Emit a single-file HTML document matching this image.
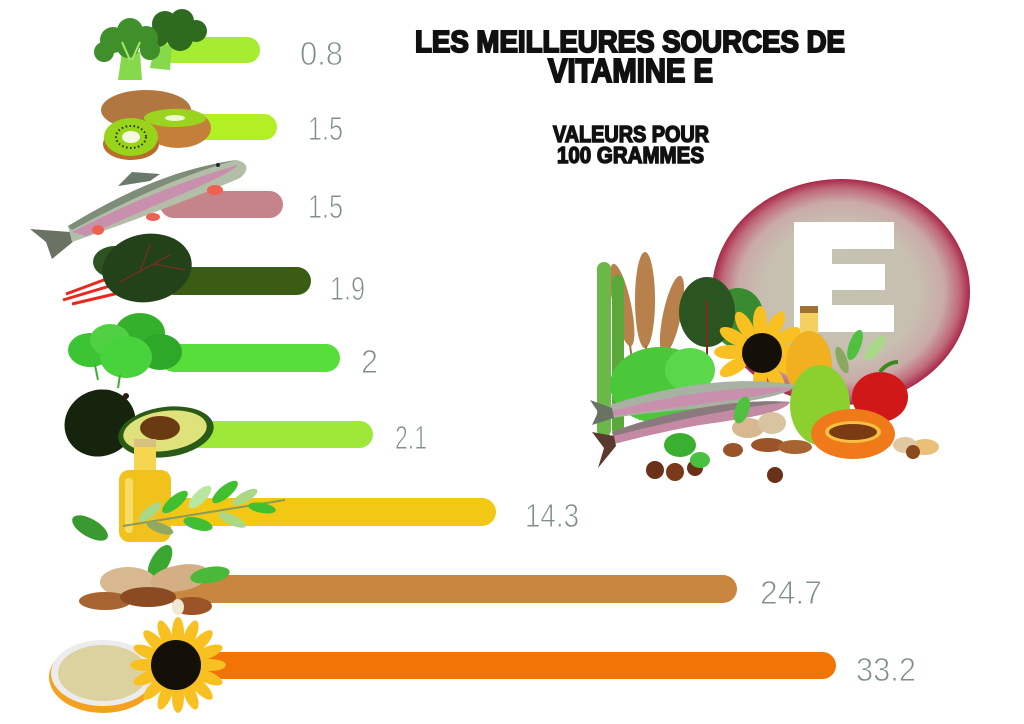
<!DOCTYPE html>
<html><head><meta charset="utf-8"><style>
html,body{margin:0;padding:0;background:#fff;}
svg{display:block;}
</style></head><body>
<svg width="1024" height="724" viewBox="0 0 1024 724" xmlns="http://www.w3.org/2000/svg">
<defs>
<radialGradient id="sph" cx="0.5" cy="0.5" r="0.5">
<stop offset="0" stop-color="#c4c2ae"/>
<stop offset="0.6" stop-color="#c7c0b1"/>
<stop offset="0.8" stop-color="#caaaa8"/>
<stop offset="0.92" stop-color="#c06a7a"/>
<stop offset="1" stop-color="#a82848"/>
</radialGradient>
</defs>
<rect width="1024" height="724" fill="#fff"/>

<!-- Title -->
<g font-family="Liberation Sans, Arial, sans-serif" font-weight="bold" fill="#111" stroke="#111" stroke-width="2">
<text x="415" y="52" font-size="31" textLength="430" lengthAdjust="spacingAndGlyphs">LES MEILLEURES SOURCES DE</text>
<text x="548" y="82" font-size="33" textLength="165" lengthAdjust="spacingAndGlyphs">VITAMINE E</text>
<text x="553" y="142" font-size="23" textLength="156" lengthAdjust="spacingAndGlyphs" stroke-width="1.5">VALEURS POUR</text>
<text x="557" y="163" font-size="23" textLength="147" lengthAdjust="spacingAndGlyphs" stroke-width="1.5">100 GRAMMES</text>
</g>

<!-- Bars -->
<rect x="160" y="37" width="100" height="26" rx="13" fill="#a6ec30"/>
<rect x="160" y="114" width="117" height="26" rx="13" fill="#b2f024"/>
<rect x="160" y="191" width="123" height="27" rx="13.5" fill="#c4848a"/>
<rect x="160" y="267" width="151" height="28" rx="14" fill="#3a5c14"/>
<rect x="160" y="344" width="180" height="28" rx="14" fill="#58de3a"/>
<rect x="160" y="421" width="213" height="27" rx="13.5" fill="#9ee83a"/>
<rect x="160" y="498" width="336" height="28" rx="14" fill="#f2c814"/>
<rect x="160" y="575" width="577" height="28" rx="14" fill="#c8863e"/>
<rect x="200" y="652" width="636" height="27" rx="13.5" fill="#f27406"/>

<!-- Value labels -->
<g font-family="Liberation Sans, Arial, sans-serif" fill="#7f8e8e" stroke="#fff" stroke-width="0.9" font-size="33">
<text x="300" y="65" textLength="43" lengthAdjust="spacingAndGlyphs">0.8</text>
<text x="308" y="140" textLength="35" lengthAdjust="spacingAndGlyphs">1.5</text>
<text x="308" y="218" textLength="35" lengthAdjust="spacingAndGlyphs">1.5</text>
<text x="330" y="300" textLength="35" lengthAdjust="spacingAndGlyphs">1.9</text>
<text x="361" y="373" textLength="17" lengthAdjust="spacingAndGlyphs">2</text>
<text x="395" y="449" textLength="32" lengthAdjust="spacingAndGlyphs">2.1</text>
<text x="525" y="527" textLength="54" lengthAdjust="spacingAndGlyphs">14.3</text>
<text x="760" y="604" textLength="62" lengthAdjust="spacingAndGlyphs">24.7</text>
<text x="856" y="681" textLength="60" lengthAdjust="spacingAndGlyphs">33.2</text>
</g>

<!-- Broccoli -->
<polygon points="155,45 172,45 170,70 150,68" fill="#86d94a"/>
<g fill="#2e6b1e">
<circle cx="165" cy="24" r="13"/><circle cx="182" cy="21" r="12"/><circle cx="196" cy="31" r="11"/><circle cx="180" cy="38" r="13"/><circle cx="158" cy="36" r="11"/>
</g>
<polygon points="122,52 140,52 142,80 118,80" fill="#86d94a"/>
<g fill="#3f8f2a">
<circle cx="113" cy="40" r="13"/><circle cx="130" cy="31" r="13"/><circle cx="146" cy="38" r="12"/><circle cx="150" cy="50" r="10"/><circle cx="104" cy="52" r="10"/><circle cx="128" cy="47" r="11"/>
</g>
<g stroke="#a8e86a" stroke-width="2"><line x1="130" y1="60" x2="122" y2="42"/><line x1="132" y1="60" x2="140" y2="42"/></g>

<!-- Kiwi -->
<ellipse cx="146" cy="110" rx="45" ry="20" fill="#b07840"/>
<ellipse cx="178" cy="128" rx="33" ry="20" fill="#c4803a"/>
<ellipse cx="175" cy="118" rx="31" ry="9" fill="#9ad41e"/>
<ellipse cx="175" cy="118" rx="10" ry="3" fill="#f0f8d0"/>
<ellipse cx="131" cy="144" rx="28" ry="16" fill="#b86e2a"/>
<ellipse cx="131" cy="137" rx="27" ry="19" fill="#98d41a"/>
<ellipse cx="131" cy="137" rx="15" ry="11" fill="none" stroke="#2a2a10" stroke-width="2" stroke-dasharray="1.5 2.5"/>
<ellipse cx="131" cy="137" rx="9" ry="6" fill="#f4f8e0"/>

<!-- Fish -->
<polygon points="70,232 30,229 46,242 52,259 74,241" fill="#6a7264"/>
<path d="M68,226 C120,195 170,170 236,160 C248,162 250,170 240,178 C200,195 150,215 72,242 Z" fill="#b2bea8"/>
<path d="M72,232 C125,205 178,182 238,165 C225,178 172,197 86,236 Z" fill="#c890ac"/>
<path d="M68,226 C120,195 170,170 236,160 C200,170 150,188 72,230 Z" fill="#7e8c7a"/>
<polygon points="118,186 132,172 160,174 150,181" fill="#6a7a6a"/>
<circle cx="218" cy="165" r="2" fill="#223"/>
<g fill="#f06050"><ellipse cx="215" cy="190" rx="8" ry="5"/><ellipse cx="153" cy="217" rx="7" ry="4"/><ellipse cx="98" cy="230" rx="6" ry="5"/></g>

<!-- Chard -->
<g stroke="#e8281e" stroke-width="3">
<line x1="63" y1="300" x2="130" y2="280"/><line x1="72" y1="304" x2="140" y2="288"/><line x1="66" y1="294" x2="120" y2="274"/></g>
<ellipse cx="115" cy="262" rx="22" ry="16" fill="#2e5220"/>
<ellipse cx="147" cy="268" rx="45" ry="34" fill="#24421a" transform="rotate(-10 147 268)"/>
<g stroke="#8a2a1e" stroke-width="1" fill="none"><path d="M120,282 L170,255 M140,272 L150,245 M155,264 L185,270"/></g>

<!-- Spinach -->
<ellipse cx="90" cy="350" rx="22" ry="17" fill="#3cc434"/>
<ellipse cx="140" cy="333" rx="25" ry="20" fill="#34b02c"/>
<ellipse cx="160" cy="352" rx="22" ry="18" fill="#2ea828"/>
<ellipse cx="110" cy="340" rx="20" ry="16" fill="#52d044"/>
<ellipse cx="126" cy="357" rx="26" ry="21" fill="#48d23c"/>
<g stroke="#3cb030" stroke-width="2"><line x1="120" y1="375" x2="118" y2="388"/><line x1="95" y1="365" x2="98" y2="380"/></g>

<!-- Avocado -->
<ellipse cx="100" cy="423" rx="36" ry="33" fill="#16240e" transform="rotate(-25 100 423)"/>
<circle cx="126" cy="396" r="3" fill="#301a10"/>
<ellipse cx="166" cy="432" rx="48" ry="25" fill="#2a5a16" transform="rotate(-8 166 432)"/>
<ellipse cx="165" cy="431" rx="42" ry="20" fill="#dfe27a" transform="rotate(-8 165 431)"/>
<ellipse cx="160" cy="428" rx="20" ry="12" fill="#6a3a12"/>

<!-- Oil bottle + olive branch -->
<ellipse cx="90" cy="528" rx="20" ry="9" fill="#3a9a30" transform="rotate(30 90 528)"/>
<rect x="134" y="445" width="22" height="32" fill="#f6d650"/>
<rect x="134" y="439" width="22" height="8" fill="#d8c080"/>
<rect x="119" y="470" width="52" height="72" rx="10" fill="#f2c21c"/>
<rect x="125" y="478" width="8" height="55" rx="4" fill="#f8dc68"/>
<line x1="123" y1="526" x2="285" y2="500" stroke="#8a9a5a" stroke-width="2"/>
<g>
<ellipse cx="150" cy="512" rx="14" ry="5" fill="#a8d888" transform="rotate(-40 150 512)"/>
<ellipse cx="175" cy="502" rx="16" ry="6" fill="#40c030" transform="rotate(-40 175 502)"/>
<ellipse cx="200" cy="497" rx="15" ry="6" fill="#b8e8a0" transform="rotate(-45 200 497)"/>
<ellipse cx="225" cy="492" rx="16" ry="6" fill="#40c030" transform="rotate(-40 225 492)"/>
<ellipse cx="245" cy="497" rx="14" ry="5" fill="#a8d888" transform="rotate(-30 245 497)"/>
<ellipse cx="160" cy="528" rx="14" ry="5" fill="#90a860" transform="rotate(20 160 528)"/>
<ellipse cx="198" cy="524" rx="15" ry="6" fill="#40c030" transform="rotate(15 198 524)"/>
<ellipse cx="232" cy="520" rx="15" ry="5" fill="#a8d888" transform="rotate(25 232 520)"/>
<ellipse cx="262" cy="508" rx="14" ry="5" fill="#40c030" transform="rotate(10 262 508)"/>
</g>

<!-- Almonds -->
<ellipse cx="160" cy="562" rx="9" ry="19" fill="#3aa830" transform="rotate(30 160 562)"/>
<ellipse cx="128" cy="582" rx="28" ry="15" fill="#d8b890"/>
<ellipse cx="180" cy="578" rx="30" ry="13" fill="#d4ae84" transform="rotate(-10 180 578)"/>
<ellipse cx="210" cy="575" rx="20" ry="8" fill="#4ab838" transform="rotate(-10 210 575)"/>
<ellipse cx="105" cy="601" rx="26" ry="9" fill="#a86430"/>
<ellipse cx="148" cy="597" rx="28" ry="10" fill="#8a4a22"/>
<ellipse cx="192" cy="606" rx="20" ry="9" fill="#9a5428"/>
<ellipse cx="178" cy="607" rx="6" ry="8" fill="#f0e8d0"/>

<!-- Bowl + sunflower -->
<ellipse cx="103" cy="677" rx="54" ry="36" fill="#f4a020"/>
<ellipse cx="103" cy="673" rx="52" ry="33" fill="#ececec"/>
<ellipse cx="103" cy="673" rx="45" ry="28" fill="#dcd2a0"/>
<g fill="#f8c020">
<ellipse cx="210" cy="665" rx="16" ry="6"/>
<ellipse cx="210" cy="665" rx="16" ry="6" transform="rotate(22.5 178 665)"/>
<ellipse cx="210" cy="665" rx="16" ry="6" transform="rotate(45 178 665)"/>
<ellipse cx="210" cy="665" rx="16" ry="6" transform="rotate(67.5 178 665)"/>
<ellipse cx="210" cy="665" rx="16" ry="6" transform="rotate(90 178 665)"/>
<ellipse cx="210" cy="665" rx="16" ry="6" transform="rotate(112.5 178 665)"/>
<ellipse cx="210" cy="665" rx="16" ry="6" transform="rotate(135 178 665)"/>
<ellipse cx="210" cy="665" rx="16" ry="6" transform="rotate(157.5 178 665)"/>
<ellipse cx="210" cy="665" rx="16" ry="6" transform="rotate(180 178 665)"/>
<ellipse cx="210" cy="665" rx="16" ry="6" transform="rotate(202.5 178 665)"/>
<ellipse cx="210" cy="665" rx="16" ry="6" transform="rotate(225 178 665)"/>
<ellipse cx="210" cy="665" rx="16" ry="6" transform="rotate(247.5 178 665)"/>
<ellipse cx="210" cy="665" rx="16" ry="6" transform="rotate(270 178 665)"/>
<ellipse cx="210" cy="665" rx="16" ry="6" transform="rotate(292.5 178 665)"/>
<ellipse cx="210" cy="665" rx="16" ry="6" transform="rotate(315 178 665)"/>
<ellipse cx="210" cy="665" rx="16" ry="6" transform="rotate(337.5 178 665)"/>
</g>
<circle cx="176" cy="665" r="25" fill="#141008"/>

<!-- Right: sphere -->
<ellipse cx="841" cy="292" rx="129" ry="113" fill="url(#sph)"/>
<path d="M794,222 H894 V249 H832 V264 H885 V290 H832 V305 H894 V332 H794 Z" fill="#fff"/>

<!-- Right food cluster -->
<g fill="#b8804a">
<ellipse cx="622" cy="305" rx="9" ry="42" transform="rotate(-12 622 305)"/>
<ellipse cx="645" cy="300" rx="10" ry="48"/>
<ellipse cx="672" cy="315" rx="9" ry="40" transform="rotate(12 672 315)"/>
</g>
<g stroke="#a07040" stroke-width="2"><line x1="630" y1="345" x2="640" y2="420"/><line x1="646" y1="345" x2="650" y2="420"/><line x1="668" y1="350" x2="660" y2="420"/></g>
<rect x="597" y="262" width="14" height="175" rx="7" fill="#6ab848"/>
<rect x="612" y="275" width="12" height="160" rx="6" fill="#5aa83a"/>
<ellipse cx="738" cy="318" rx="26" ry="30" fill="#3a8a30"/>
<ellipse cx="707" cy="312" rx="28" ry="35" fill="#2a5420"/>
<line x1="707" y1="300" x2="707" y2="370" stroke="#7a2a1e" stroke-width="2"/>
<ellipse cx="660" cy="385" rx="50" ry="38" fill="#4ac83a"/>
<ellipse cx="690" cy="370" rx="25" ry="22" fill="#5ad84a"/>
<!-- sunflower -->
<g fill="#f8c020">
<ellipse cx="760" cy="322" rx="7" ry="16"/>
<ellipse cx="760" cy="322" rx="7" ry="16" transform="rotate(30 760 352)"/>
<ellipse cx="760" cy="322" rx="7" ry="16" transform="rotate(60 760 352)"/>
<ellipse cx="760" cy="322" rx="7" ry="16" transform="rotate(90 760 352)"/>
<ellipse cx="760" cy="322" rx="7" ry="16" transform="rotate(120 760 352)"/>
<ellipse cx="760" cy="322" rx="7" ry="16" transform="rotate(150 760 352)"/>
<ellipse cx="760" cy="322" rx="7" ry="16" transform="rotate(180 760 352)"/>
<ellipse cx="760" cy="322" rx="7" ry="16" transform="rotate(240 760 352)"/>
<ellipse cx="760" cy="322" rx="7" ry="16" transform="rotate(270 760 352)"/>
<ellipse cx="760" cy="322" rx="7" ry="16" transform="rotate(300 760 352)"/>
<ellipse cx="760" cy="322" rx="7" ry="16" transform="rotate(330 760 352)"/>
</g>
<circle cx="762" cy="353" r="20" fill="#141008"/>
<!-- oil bottle -->
<rect x="800" y="312" width="18" height="25" fill="#f4d060"/>
<rect x="800" y="306" width="18" height="7" fill="#a07030"/>
<ellipse cx="809" cy="365" rx="23" ry="34" fill="#f0b020"/>
<!-- olive leaves -->
<ellipse cx="855" cy="345" rx="6" ry="16" fill="#50c040" transform="rotate(20 855 345)"/>
<ellipse cx="875" cy="348" rx="6" ry="15" fill="#a8d888" transform="rotate(40 875 348)"/>
<ellipse cx="842" cy="360" rx="5" ry="14" fill="#8aa860" transform="rotate(-20 842 360)"/>
<!-- pear -->
<ellipse cx="820" cy="405" rx="30" ry="40" fill="#8cd030"/>
<!-- fish -->
<path d="M610,405 C670,385 740,375 795,385 C790,395 760,400 700,408 C660,412 630,415 612,418 Z" fill="#a8b2a2"/>
<path d="M612,411 C670,395 740,385 793,388 C770,396 700,404 612,416 Z" fill="#c890ac"/>
<polygon points="612,408 590,400 598,412 592,425 614,418" fill="#6a7264"/>
<path d="M612,432 C670,410 740,398 790,402 C785,412 750,418 700,425 C660,432 630,440 614,444 Z" fill="#c48aa4"/>
<path d="M612,432 C670,410 740,398 790,402 C750,406 690,416 614,436 Z" fill="#8a7a7e"/>
<polygon points="614,436 592,432 604,448 598,468 616,446" fill="#5a3a30"/>
<!-- pepper -->
<ellipse cx="880" cy="397" rx="28" ry="25" fill="#d01818"/>
<path d="M880,372 C885,365 892,362 898,362" stroke="#3a8a20" stroke-width="4" fill="none"/>
<!-- papaya -->
<ellipse cx="853" cy="434" rx="42" ry="25" fill="#f07a1a"/>
<ellipse cx="853" cy="432" rx="28" ry="11" fill="#f8c040"/>
<ellipse cx="853" cy="432" rx="24" ry="8" fill="#7a3a12"/>
<!-- nuts -->
<ellipse cx="748" cy="428" rx="16" ry="10" fill="#d8b890"/>
<ellipse cx="772" cy="423" rx="14" ry="11" fill="#d8c4a0"/>
<ellipse cx="768" cy="445" rx="17" ry="7" fill="#9a5428"/>
<ellipse cx="795" cy="447" rx="17" ry="7" fill="#a86430"/>
<ellipse cx="733" cy="450" rx="10" ry="7" fill="#9a5428"/>
<circle cx="655" cy="470" r="9" fill="#6a3018"/>
<circle cx="675" cy="472" r="9" fill="#7a3a1a"/>
<circle cx="695" cy="468" r="8" fill="#6a3018"/>
<circle cx="775" cy="475" r="8" fill="#6a3018"/>
<ellipse cx="680" cy="445" rx="16" ry="12" fill="#3ab030"/>
<ellipse cx="700" cy="460" rx="10" ry="8" fill="#48c040"/>
<ellipse cx="925" cy="447" rx="14" ry="8" fill="#e8c078"/>
<ellipse cx="905" cy="445" rx="12" ry="8" fill="#e0c8a0"/>
<circle cx="913" cy="452" r="7" fill="#8a4a20"/>
<ellipse cx="742" cy="410" rx="7" ry="14" fill="#50c040" transform="rotate(20 742 410)"/>
</svg>
</body></html>
